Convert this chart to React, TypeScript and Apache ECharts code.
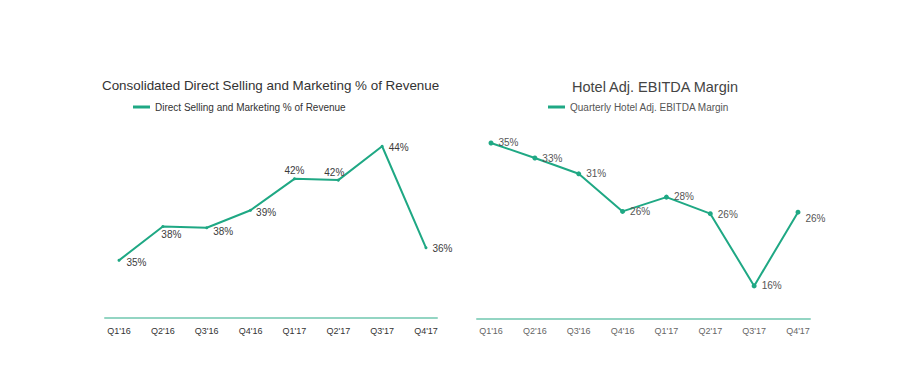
import React, { useEffect, useRef } from "react";
import * as echarts from "echarts";

const categories = ["Q1'16", "Q2'16", "Q3'16", "Q4'16", "Q1'17", "Q2'17", "Q3'17", "Q4'17"];
const sellingMarketing = [35.2, 37.9, 37.8, 39.2, 41.7, 41.6, 44.3, 36.2];
const ebitdaMargin = [35.0, 33.0, 30.9, 25.9, 27.8, 25.6, 16.0, 25.8];

const leftTitle = "Consolidated Direct Selling and Marketing % of Revenue";
const rightTitle = "Hotel Adj. EBITDA Margin";
const leftSeriesName = "Direct Selling and Marketing % of Revenue";
const rightSeriesName = "Quarterly Hotel Adj. EBITDA Margin";

// label placement styles (not data)
const leftLabelPos: [string, number, number][] = [
  ["right", 1, 2],
  ["right", -8, 8],
  ["right", 0, 4],
  ["right", -1, 2],
  ["top", 0, 3],
  ["top", -4, 4],
  ["right", 0, 1],
  ["right", 0, 1],
];
const rightLabelPos: [string, number, number][] = [
  ["right", 0, 0],
  ["right", 0, 0],
  ["right", 0, 0],
  ["right", 0, 0],
  ["right", 0, -1],
  ["right", 0, 1],
  ["right", 0, 0],
  ["right", 0, 6],
];

const LINE = "#1fa884";
const AXIS = "#93d5c3";
const FONT = "Liberation Sans, Arial, sans-serif";

export default function App() {
  const ref = useRef<HTMLDivElement>(null);
  useEffect(() => {
    document.body.style.margin = "0";
    const chart = echarts.init(ref.current!, null, { renderer: "svg" });
    const fmt = (p: any) => Math.round(p.value) + "%";
    const mk = (vals: number[], pos: [string, number, number][], color: string) =>
      vals.map((v, i) => ({
        value: v,
        label: { position: pos[i][0], offset: [pos[i][1], pos[i][2]], color },
      }));
    chart.setOption({
      animation: false,
      textStyle: { fontFamily: FONT },
      title: [
        {
          text: leftTitle,
          left: 97,
          top: 74,
          textStyle: { fontSize: 13.4, fontWeight: "normal", color: "#333", fontFamily: FONT },
        },
        {
          text: rightTitle,
          left: 567,
          top: 74,
          textStyle: { fontSize: 14.5, fontWeight: "normal", color: "#444", fontFamily: FONT },
        },
      ],
      legend: [
        {
          data: [leftSeriesName],
          left: 128,
          top: 97,
          itemWidth: 17,
          itemHeight: 3,
          itemGap: 6,
          icon: "rect",
          textStyle: { fontSize: 10, color: "#333", fontFamily: FONT },
        },
        {
          data: [rightSeriesName],
          left: 543,
          top: 97,
          itemWidth: 17,
          itemHeight: 3,
          icon: "rect",
          textStyle: { fontSize: 10, color: "#555", fontFamily: FONT },
        },
      ],
      grid: [
        { left: 119, right: 497, top: 140, bottom: 47 },
        { left: 491, right: 125, top: 138, bottom: 46 },
        { left: 105, right: 486, top: 300, bottom: 47 },
        { left: 477, right: 113, top: 300, bottom: 46 },
      ],
      xAxis: [
        {
          type: "category",
          gridIndex: 0,
          data: categories,
          boundaryGap: false,
          axisLine: { show: false },
          axisTick: { show: false },
          axisLabel: { fontSize: 9, color: "#333", margin: 8, fontFamily: FONT },
        },
        {
          type: "category",
          gridIndex: 1,
          data: categories,
          boundaryGap: false,
          axisLine: { show: false },
          axisTick: { show: false },
          axisLabel: { fontSize: 9, color: "#666", margin: 7, fontFamily: FONT },
        },
        {
          type: "value",
          gridIndex: 2,
          min: 0,
          max: 1,
          axisLine: { show: true, lineStyle: { color: AXIS, width: 2 } },
          axisTick: { show: false },
          axisLabel: { show: false },
          splitLine: { show: false },
        },
        {
          type: "value",
          gridIndex: 3,
          min: 0,
          max: 1,
          axisLine: { show: true, lineStyle: { color: AXIS, width: 2 } },
          axisTick: { show: false },
          axisLabel: { show: false },
          splitLine: { show: false },
        },
      ],
      yAxis: [
        { type: "value", gridIndex: 0, min: 30.6, max: 44.8, show: false },
        { type: "value", gridIndex: 1, min: 11.6, max: 35.66, show: false },
        { type: "value", gridIndex: 2, min: 0, max: 1, show: false },
        { type: "value", gridIndex: 3, min: 0, max: 1, show: false },
      ],
      series: [
        {
          name: leftSeriesName,
          type: "line",
          xAxisIndex: 0,
          yAxisIndex: 0,
          data: mk(sellingMarketing, leftLabelPos, "#3b3b3b"),
          symbol: "circle",
          symbolSize: 3,
          itemStyle: { color: LINE },
          lineStyle: { color: LINE, width: 2 },
          label: { show: true, fontSize: 10, formatter: fmt, fontFamily: FONT },
        },
        {
          name: rightSeriesName,
          type: "line",
          xAxisIndex: 1,
          yAxisIndex: 1,
          data: mk(ebitdaMargin, rightLabelPos, "#555"),
          symbol: "circle",
          symbolSize: 5,
          itemStyle: { color: LINE },
          lineStyle: { color: LINE, width: 2 },
          label: { show: true, fontSize: 10, formatter: fmt, fontFamily: FONT },
        },
      ],
    });
    return () => chart.dispose();
  }, []);
  return <div ref={ref} style={{ width: 923, height: 365 }} />;
}
